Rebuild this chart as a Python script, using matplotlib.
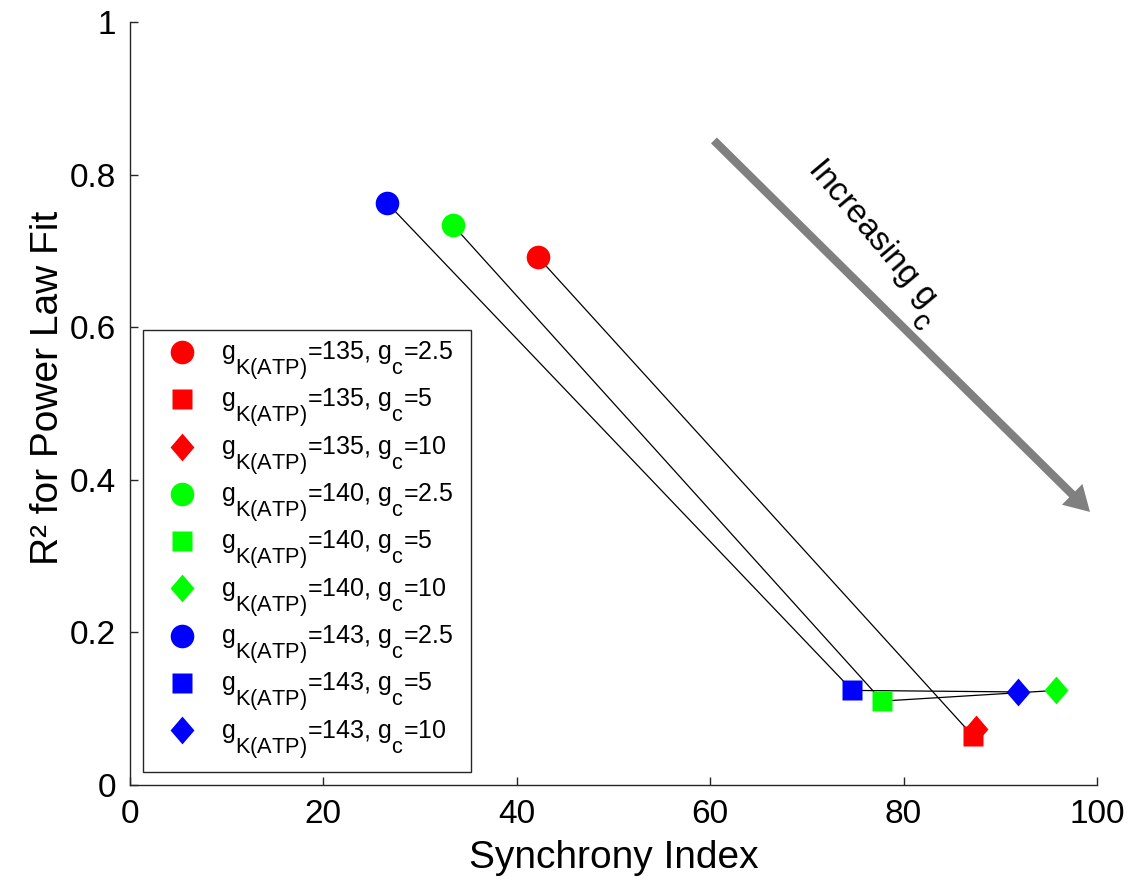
import matplotlib.pyplot as plt
import matplotlib._mathtext as mtext

plt.rcParams["font.family"] = ["Liberation Sans", "DejaVu Sans"]
plt.rcParams["mathtext.fontset"] = "custom"
plt.rcParams["mathtext.rm"] = "Liberation Sans"
plt.rcParams["mathtext.it"] = "Liberation Sans"

# matlab-style subscripts: bigger and lower than matplotlib's default
mtext.SHRINK_FACTOR = 0.87
mtext.FontConstantsBase.sub1 = 1.1

# -------------------------
# Data
# -------------------------
gk_values = [135, 140, 143]
gc_values = [2.5, 5, 10]
colors = ["#ff0000", "#00ff00", "#0000ff"]

sync_135 = [42.2, 87.2, 87.5]
r2_135 = [0.692, 0.064, 0.073]
sync_140 = [33.4, 77.8, 95.8]
r2_140 = [0.734, 0.110, 0.124]
sync_143 = [26.6, 74.7, 91.8]
r2_143 = [0.763, 0.124, 0.122]

sync = [sync_135, sync_140, sync_143]
r2 = [r2_135, r2_140, r2_143]

x_ticks = [0, 20, 40, 60, 80, 100]
y_ticks = [0, 0.2, 0.4, 0.6, 0.8, 1]
y_tick_labels = ["0", "0.2", "0.4", "0.6", "0.8", "1"]

# marker per g_c (circle, square, tall diamond)
diamond = [(0, 1), (0.86, 0), (0, -1), (-0.86, 0), (0, 1)]
markers = ["o", "s", diamond]
sizes = [17, 15, 20]

fig = plt.figure(figsize=(11.43, 8.88), dpi=100)
ax = fig.add_axes([0.1137, 0.116, 0.846, 0.859])

# connecting lines
for i in range(3):
    ax.plot(sync[i], r2[i], color="black", lw=0.9, zorder=2)

# markers
for i, gk in enumerate(gk_values):
    for j, gc in enumerate(gc_values):
        lbl = r"g$_{\mathregular{K(ATP)}}$=%d, g$_\mathregular{c}$=%s" % (gk, gc)
        ax.plot(sync[i][j], r2[i][j], linestyle="none", marker=markers[j],
                ms=sizes[j], color=colors[i], mec="none",
                label=lbl, zorder=3)

# arrow + annotation
ax.annotate("", xy=(99.28, 0.358), xytext=(60.39, 0.845),
            arrowprops=dict(arrowstyle="simple,head_length=1.8,head_width=2.1,tail_width=0.6",
                            fc="#808080", ec="none", lw=0, mutation_scale=10,
                            shrinkA=0, shrinkB=0))
ax.text(76.7, 0.71, r"Increasing g$_\mathregular{c}$", rotation=-50,
        rotation_mode="anchor", fontsize=24, ha="center", va="center")

ax.set_xlim(0, 100)
ax.set_ylim(0, 1)
ax.set_xticks(x_ticks)
ax.set_yticks(y_ticks)
ax.set_yticklabels(y_tick_labels)
ax.tick_params(direction="in", length=6, width=1, labelsize=24,
               color="#262626", pad=10)
for s in ["top", "right"]:
    ax.spines[s].set_visible(False)
for s in ["left", "bottom"]:
    ax.spines[s].set_color("#262626")
    ax.spines[s].set_linewidth(1.0)

ax.set_xlabel("Synchrony Index", fontsize=28)
ax.set_ylabel("R² for Power Law Fit", fontsize=28)
ax.xaxis.set_label_coords(0.5, -0.072)
ax.yaxis.set_label_coords(-0.066, 0.52)

leg = ax.legend(loc="lower left", bbox_to_anchor=(0.013, 0.017, 0.340, 0.5),
                mode="expand", borderaxespad=0, fontsize=18, fancybox=False,
                edgecolor="#262626", framealpha=1, labelspacing=0.17,
                handletextpad=0.42, borderpad=0.42, handlelength=2.3)
leg.get_frame().set_linewidth(1.0)

plt.savefig("out.png", dpi=100)
